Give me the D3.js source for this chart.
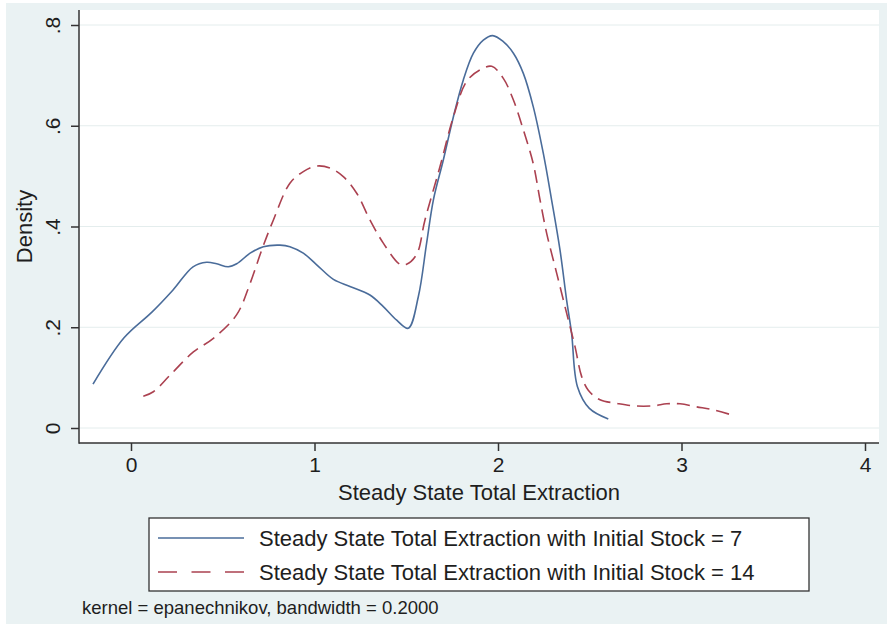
<!DOCTYPE html>
<html>
<head>
<meta charset="utf-8">
<script src="https://cdn.jsdelivr.net/npm/d3@7"></script>
<style>
  body { margin: 0; background: #ffffff; }
  svg text { font-family: "Liberation Sans", Arial, sans-serif; fill: #1e1e1e; }
</style>
</head>
<body>
<svg id="canvas"></svg>
<script>
// ########## Data ##########

// series 1: initial stock = 7
stock7X = [-0.207, -0.038, 0.114, 0.229, 0.338, 0.412, 0.467, 0.530, 0.576, 0.649,
           0.721, 0.812, 0.866, 0.939, 1.012, 1.103, 1.193, 1.302, 1.375, 1.448,
           1.511, 1.566, 1.611, 1.648, 1.702, 1.757, 1.811, 1.866, 1.920, 1.971,
           2.029, 2.084, 2.138, 2.192, 2.247, 2.292, 2.338, 2.374, 2.401, 2.433,
           2.498, 2.601];
stock7Y = [0.087, 0.179, 0.230, 0.274, 0.320, 0.329, 0.326, 0.320, 0.326, 0.347,
           0.360, 0.363, 0.360, 0.347, 0.324, 0.295, 0.281, 0.264, 0.241, 0.214,
           0.198, 0.261, 0.367, 0.453, 0.532, 0.618, 0.691, 0.744, 0.770, 0.779,
           0.767, 0.744, 0.704, 0.638, 0.545, 0.453, 0.353, 0.254, 0.188, 0.082,
           0.039, 0.018];

// series 2: initial stock = 14
stock14X = [0.067, 0.122, 0.213, 0.340, 0.449, 0.576, 0.649, 0.712, 0.776, 0.866,
            0.939, 1.012, 1.084, 1.157, 1.230, 1.302, 1.375, 1.466, 1.502, 1.557,
            1.602, 1.684, 1.757, 1.829, 1.902, 1.966, 2.029, 2.084, 2.138, 2.192,
            2.229, 2.265, 2.320, 2.374, 2.420, 2.456, 2.492, 2.556, 2.647, 2.738,
            2.847, 2.919, 2.992, 3.083, 3.174, 3.273];
stock14Y = [0.063, 0.072, 0.105, 0.151, 0.178, 0.225, 0.287, 0.353, 0.413, 0.486,
            0.509, 0.520, 0.516, 0.499, 0.466, 0.413, 0.367, 0.325, 0.325, 0.345,
            0.413, 0.519, 0.618, 0.688, 0.711, 0.718, 0.694, 0.651, 0.592, 0.525,
            0.453, 0.387, 0.307, 0.228, 0.161, 0.102, 0.075, 0.056, 0.049, 0.044,
            0.044, 0.048, 0.048, 0.042, 0.036, 0.026];

xTicks = [0, 1, 2, 3, 4];
yTicks = [0, 0.2, 0.4, 0.6, 0.8];
yTickLabels = ["0", ".2", ".4", ".6", ".8"];

legendLabels = ["Steady State Total Extraction with Initial Stock = 7",
                "Steady State Total Extraction with Initial Stock = 14"];

w = 887;
h = 624;

blue = "#4a6c9a";
red = "#ab4150";

// ########## SVG ##########
svg = d3.select("#canvas")
    .attr("width", w)
    .attr("height", h);

// outer graph region
svg.append("rect")
    .attr("x", 6)
    .attr("y", 3)
    .attr("width", w - 6)
    .attr("height", h - 3)
    .attr("fill", "#eaf2f3");

// plot region
plotL = 79; plotR = 879; plotT = 10; plotB = 443;

svg.append("rect")
    .attr("x", plotL)
    .attr("y", plotT)
    .attr("width", plotR - plotL)
    .attr("height", plotB - plotT)
    .attr("fill", "#ffffff");

// ########## Scales ##########
x = d3.scaleLinear().domain([0, 4]).range([131, 865]);
y = d3.scaleLinear().domain([0, 0.8]).range([428, 25]);

// ########## Grid ##########
svg.append("g")
    .selectAll("line")
    .data(yTicks)
    .enter().append("line")
    .attr("x1", plotL)
    .attr("x2", plotR)
    .attr("y1", function (d) { return y(d); })
    .attr("y2", function (d) { return y(d); })
    .attr("stroke", "#e4eded")
    .attr("stroke-width", 1);

// ########## Axes ##########
xAxis = svg.append("g")
    .attr("transform", "translate(0," + plotB + ")")
    .call(d3.axisBottom(x).tickValues(xTicks).tickSize(8).tickPadding(6).tickFormat(d3.format("d")));
xAxis.select(".domain").remove();
xAxis.selectAll("line").attr("stroke", "#333").attr("stroke-width", 1.5);
xAxis.selectAll("text")
    .attr("font-size", 21)
    .attr("fill", "#1e1e1e")
    .attr("dy", "0.72em");

yAxis = svg.append("g")
    .attr("transform", "translate(" + plotL + ",0)")
    .call(d3.axisLeft(y).tickValues(yTicks).tickSize(8).tickFormat(function (d, i) { return yTickLabels[i]; }));
yAxis.select(".domain").remove();
yAxis.selectAll("line").attr("stroke", "#333").attr("stroke-width", 1.5);
yAxis.selectAll("text")
    .attr("font-size", 21)
    .attr("fill", "#1e1e1e")
    .attr("text-anchor", "middle")
    .attr("x", 0)
    .attr("dy", 0)
    .attr("transform", "translate(-19,0) rotate(-90)");

// axis lines
svg.append("line")
    .attr("x1", plotL).attr("x2", plotL)
    .attr("y1", plotT).attr("y2", plotB + 0.75)
    .attr("stroke", "#333").attr("stroke-width", 1.5);
svg.append("line")
    .attr("x1", plotL).attr("x2", plotR)
    .attr("y1", plotB).attr("y2", plotB)
    .attr("stroke", "#333").attr("stroke-width", 1.5);

// axis titles
svg.append("text")
    .attr("x", (plotL + plotR) / 2)
    .attr("y", 500)
    .attr("text-anchor", "middle")
    .attr("font-size", 22)
    .text("Steady State Total Extraction");

svg.append("text")
    .attr("transform", "translate(32," + ((plotT + plotB) / 2) + ") rotate(-90)")
    .attr("text-anchor", "middle")
    .attr("font-size", 22)
    .text("Density");

// ########## Lines ##########
line = d3.line()
    .x(function (d) { return x(d[0]); })
    .y(function (d) { return y(d[1]); })
    .curve(d3.curveCatmullRom.alpha(0.5));

svg.append("path")
    .datum(d3.zip(stock7X, stock7Y))
    .attr("d", line)
    .attr("fill", "none")
    .attr("stroke", blue)
    .attr("stroke-width", 1.6);

svg.append("path")
    .datum(d3.zip(stock14X, stock14Y))
    .attr("d", line)
    .attr("fill", "none")
    .attr("stroke", red)
    .attr("stroke-width", 1.6)
    .attr("stroke-dasharray", "13,7");

// ########## Legend ##########
legend = svg.append("g");

legend.append("rect")
    .attr("x", 149)
    .attr("y", 518)
    .attr("width", 660)
    .attr("height", 73)
    .attr("fill", "#ffffff")
    .attr("stroke", "#333")
    .attr("stroke-width", 1.3);

legendRows = legend.selectAll("g.row")
    .data(legendLabels)
    .enter().append("g")
    .attr("class", "row")
    .attr("transform", function (d, i) { return "translate(0," + (538 + i * 34) + ")"; });

legendRows.append("line")
    .attr("x1", 158)
    .attr("x2", 244)
    .attr("y1", 0)
    .attr("y2", 0)
    .attr("stroke", function (d, i) { return i == 0 ? blue : red; })
    .attr("stroke-width", 1.6)
    .attr("stroke-dasharray", function (d, i) { return i == 0 ? null : "19,14.5"; });

legendRows.append("text")
    .attr("x", 259)
    .attr("y", 0)
    .attr("dy", "0.36em")
    .attr("font-size", 22)
    .text(function (d) { return d; });

// ########## Note ##########
svg.append("text")
    .attr("x", 82)
    .attr("y", 614)
    .attr("font-size", 18.5)
    .text("kernel = epanechnikov, bandwidth = 0.2000");
</script>
</body>
</html>
